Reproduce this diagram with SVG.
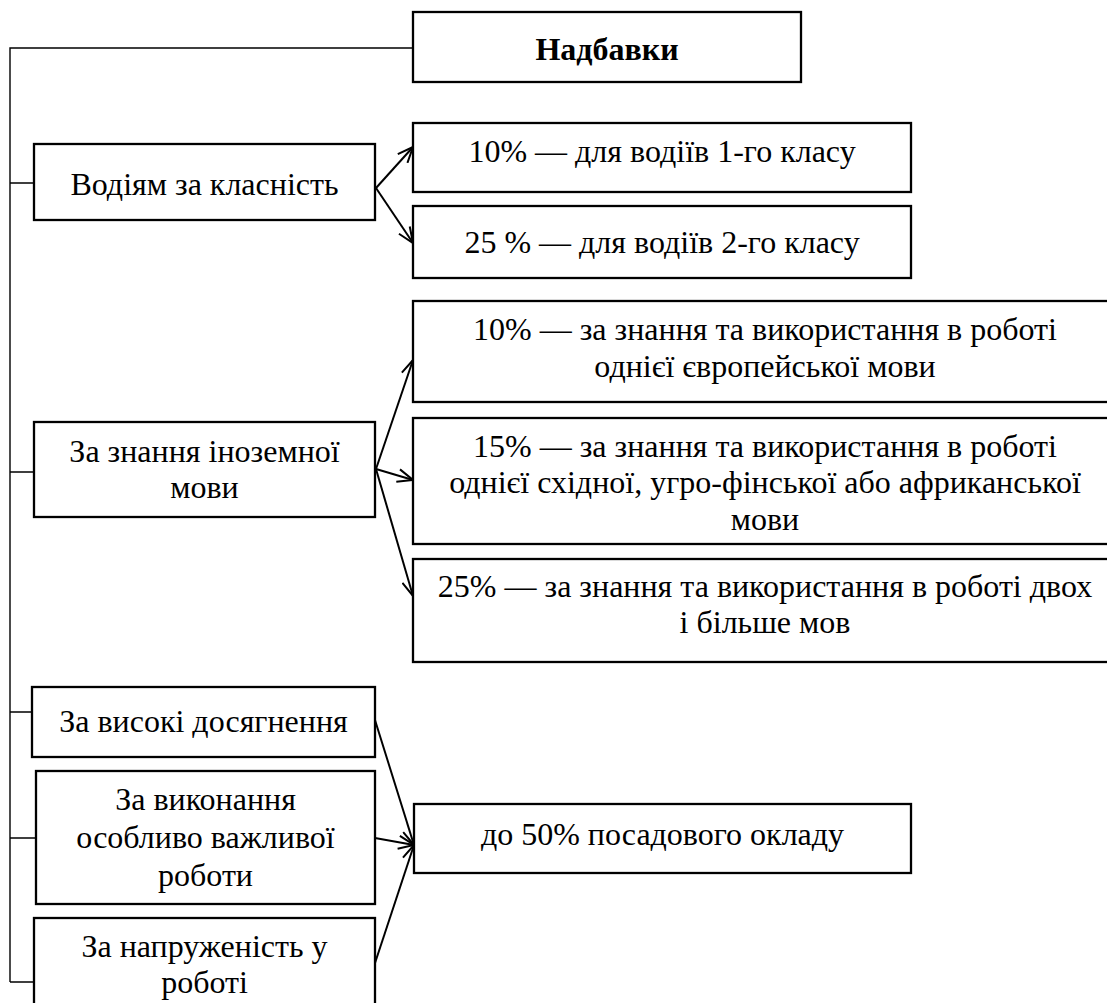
<svg xmlns="http://www.w3.org/2000/svg" width="1107" height="1003" viewBox="0 0 1107 1003">
<style>
.box{fill:#fff;stroke:#000;stroke-width:2.3}
.t{font-family:"Liberation Serif","Times New Roman",serif;font-size:32px;fill:#000;text-anchor:middle}
.b{font-weight:bold}
.tree{fill:none;stroke:#000;stroke-width:1.4}
.arr{fill:none;stroke:#000;stroke-width:2;marker-end:url(#ah)}
</style>
<defs>
<marker id="ah" viewBox="0 0 17 15" refX="16.5" refY="7.5" markerWidth="17" markerHeight="15" markerUnits="userSpaceOnUse" orient="auto">
<path d="M1,1 L16.5,7.5 L1,14" fill="none" stroke="#000" stroke-width="2"/>
</marker>
</defs>
<rect width="1107" height="1003" fill="#fff"/>
<g id="connectors">
<path class="tree" d="M413,48 H10 V982 M10,183 H34 M10,472 H34 M10,712 H32 M10,838 H36 M10,982 H34"/>
<line class="arr" x1="376" y1="188" x2="413" y2="147"/>
<line class="arr" x1="376" y1="188" x2="413" y2="243"/>
<line class="arr" x1="376" y1="469" x2="413" y2="360"/>
<line class="arr" x1="376" y1="469" x2="413" y2="480"/>
<line class="arr" x1="376" y1="469" x2="413" y2="596"/>
<line class="arr" x1="375" y1="720" x2="414" y2="845"/>
<line class="arr" x1="375" y1="838" x2="414" y2="845"/>
<line class="arr" x1="375" y1="963" x2="414" y2="845"/>
</g>
<g id="n-nadbavky">
<rect class="box" x="413" y="12" width="388" height="70"/>
<text class="t b" x="607" y="60">Надбавки</text>
</g>
<g id="n-vodiyam">
<rect class="box" x="34" y="144" width="341" height="76"/>
<text class="t" x="204.5" y="195">Водіям за класність</text>
</g>
<g id="n-10-1">
<rect class="box" x="413" y="123" width="498" height="69"/>
<text class="t" x="662" y="162">10% — для водіїв 1-го класу</text>
</g>
<g id="n-25-2">
<rect class="box" x="413" y="206" width="498" height="72"/>
<text class="t" x="662" y="253">25 % — для водіїв 2-го класу</text>
</g>
<g id="n-inozemna">
<rect class="box" x="34" y="422" width="341" height="95"/>
<text class="t" x="204.5" y="462">За знання іноземної</text>
<text class="t" x="204.5" y="498">мови</text>
</g>
<g id="n-10-eu">
<rect class="box" x="413" y="301" width="710" height="101"/>
<text class="t" x="765" y="340">10% — за знання та використання в роботі</text>
<text class="t" x="765" y="377">однієї європейської мови</text>
</g>
<g id="n-15-east">
<rect class="box" x="413" y="418" width="710" height="126"/>
<text class="t" x="765" y="457">15% — за знання та використання в роботі</text>
<text class="t" x="765" y="493">однієї східної, угро-фінської або африканської</text>
<text class="t" x="765" y="530">мови</text>
</g>
<g id="n-25-two">
<rect class="box" x="413" y="559" width="710" height="103"/>
<text class="t" x="765" y="597">25% — за знання та використання в роботі двох</text>
<text class="t" x="765" y="633">і більше мов</text>
</g>
<g id="n-vysoki">
<rect class="box" x="32" y="687" width="343" height="70"/>
<text class="t" x="203.5" y="732">За високі досягнення</text>
</g>
<g id="n-vykonannya">
<rect class="box" x="36" y="771" width="339" height="133"/>
<text class="t" x="205.5" y="810">За виконання</text>
<text class="t" x="205.5" y="848">особливо важливої</text>
<text class="t" x="205.5" y="886">роботи</text>
</g>
<g id="n-napruzhenist">
<rect class="box" x="34" y="918" width="341" height="100"/>
<text class="t" x="204.5" y="957">За напруженість у</text>
<text class="t" x="204.5" y="993">роботі</text>
</g>
<g id="n-50">
<rect class="box" x="414" y="804" width="497" height="69"/>
<text class="t" x="662.5" y="845">до 50% посадового окладу</text>
</g>
</svg>
